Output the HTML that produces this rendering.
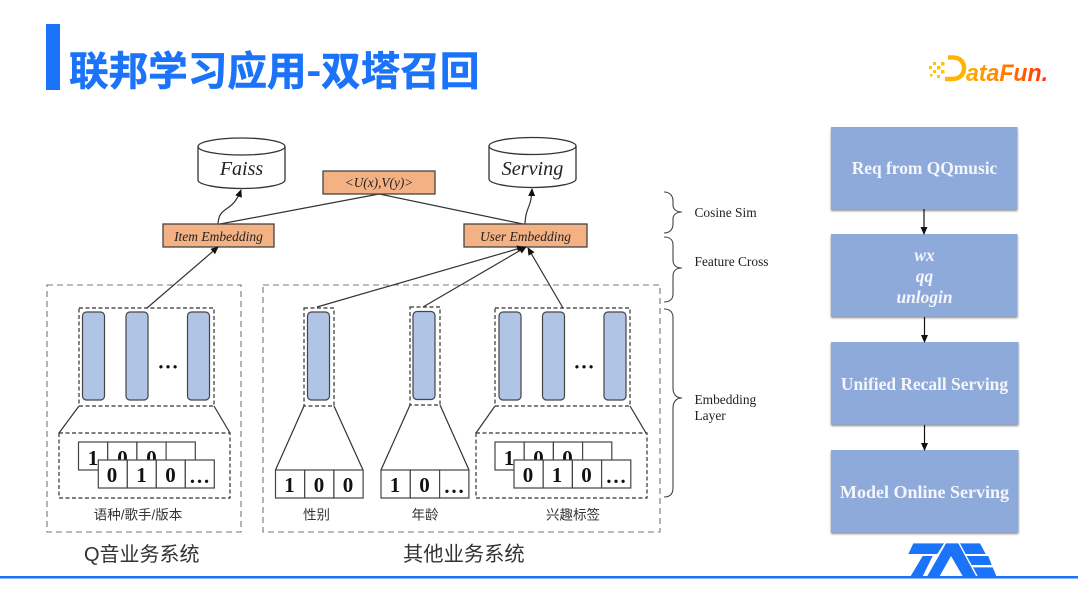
<!DOCTYPE html>
<html><head><meta charset="utf-8"><style>
html,body{margin:0;padding:0;background:#fff}
svg{display:block}
.s{font-family:"Liberation Serif",serif}
.c{font-family:"Liberation Sans","Noto Sans CJK SC",sans-serif;fill:#333}
.i{font-style:italic;fill:#222}
.w{font-family:"Liberation Serif",serif;font-weight:bold;fill:#f4f6fb;font-size:17.400px;text-anchor:middle}
.d{font-family:"Liberation Serif",serif;font-weight:bold;font-size:21px;text-anchor:middle;fill:#111}
.l{fill:none;stroke:#333;stroke-width:1.2}
.dash{fill:none;stroke:#333;stroke-width:1.2;stroke-dasharray:4 2.5}
.gd{fill:none;stroke:#777;stroke-width:1.1;stroke-dasharray:6 4}
.bar{fill:#b0c5e5;stroke:#444;stroke-width:1.2}
.cell{fill:#fff;stroke:#444;stroke-width:1.2}
.org{fill:#f4b183;stroke:#444;stroke-width:1.3}
.b{fill:#8eaadb}
</style></head><body>
<svg width="1080" height="608" viewBox="0 0 1080 608" xmlns="http://www.w3.org/2000/svg">
<defs>
<marker id="a" markerWidth="8" markerHeight="8" refX="7" refY="3.5" orient="auto" markerUnits="userSpaceOnUse"><path d="M0 0L8 3.5L0 7z" fill="#111"/></marker>
<linearGradient id="g" x1="0" x2="1" y1="0" y2="0"><stop offset="0" stop-color="#ffae00"/><stop offset=".5" stop-color="#ff7a00"/><stop offset="1" stop-color="#ff3010"/></linearGradient>
<filter id="sh" x="-5%" y="-5%" width="110%" height="112%"><feDropShadow dx="0" dy="1.500" stdDeviation="1" flood-color="#000" flood-opacity=".45"/></filter>
</defs>

<rect x="46" y="24" width="14" height="66" fill="#1a73f8"/>
<text x="69" y="85" font-family="'Noto Sans CJK SC',sans-serif" font-weight="700" font-size="39.600" fill="#1a73f8" stroke="#1a73f8" stroke-width=".6">联邦学习应用-双塔召回</text>

<!-- logo -->
<g fill="#ffc400">
<rect x="929" y="66" width="3" height="3"/><rect x="933" y="62" width="3" height="3"/><rect x="937" y="66" width="3.500" height="3.500"/><rect x="933" y="70" width="3" height="3"/><rect x="941" y="62" width="3.500" height="3.500"/><rect x="941" y="70" width="3.500" height="3.500"/><rect x="937" y="75" width="3" height="3"/><rect x="930" y="74" width="2.500" height="2.500"/>
</g>
<path d="M948 57.500H953C961 57.500 964 63 964 68C964 75 959 79 952 79H945" fill="none" stroke="#ffb400" stroke-width="4.500"/>
<text x="966" y="81" font-family="'Liberation Sans',sans-serif" font-weight="bold" font-style="italic" font-size="24" textLength="82" lengthAdjust="spacingAndGlyphs" fill="url(#g)">ataFun.</text>

<!-- cylinders -->
<g fill="#fff" stroke="#333" stroke-width="1.300">
<path d="M198 146.500V180C198 184.500 217 188.500 241.500 188.500S285 184.500 285 180V146.500"/>
<ellipse cx="241.500" cy="146.500" rx="43.500" ry="8.500"/>
<path d="M489 146V179C489 183.500 508 187.500 532.500 187.500S576 183.500 576 179V146"/>
<ellipse cx="532.500" cy="146" rx="43.500" ry="8.500"/>
</g>
<text x="241.500" y="175" class="s i" font-size="20" text-anchor="middle">Faiss</text>
<text x="532.500" y="175" class="s i" font-size="20.200" text-anchor="middle">Serving</text>

<!-- top lines -->
<path class="l" d="M379 194L220 224M379 194L523 224"/>
<path class="l" d="M218 224C219 205 232 214 241 190" marker-end="url(#a)"/>
<path class="l" d="M525 224C526 205 531 210 532 189" marker-end="url(#a)"/>

<rect class="org" x="323" y="171" width="112" height="23"/>
<text x="379" y="187" class="s i" font-size="13.300" text-anchor="middle">&lt;U(x),V(y)&gt;</text>
<rect class="org" x="163" y="224" width="111" height="23"/>
<text x="218.500" y="241" class="s i" font-size="13.500" text-anchor="middle">Item Embedding</text>
<rect class="org" x="464" y="224" width="123" height="23"/>
<text x="525.500" y="241" class="s i" font-size="13.500" text-anchor="middle">User Embedding</text>

<!-- outer dashed -->
<rect class="gd" x="47" y="285" width="194" height="247"/>
<rect class="gd" x="263" y="285" width="397" height="247"/>

<!-- arrows -->
<path class="l" d="M147 308L218 247" marker-end="url(#a)"/>
<path class="l" d="M317 307L524 247" marker-end="url(#a)"/>
<path class="l" d="M423 307L526 247" marker-end="url(#a)"/>
<path class="l" d="M563 308L528 248" marker-end="url(#a)"/>

<!-- group 1 -->
<rect class="dash" x="79" y="308" width="135" height="98"/>
<rect class="bar" x="82.500" y="312" width="22" height="88" rx="4"/>
<rect class="bar" x="126" y="312" width="22" height="88" rx="4"/>
<rect class="bar" x="187.500" y="312" width="22" height="88" rx="4"/>
<text x="168" y="368.500" class="d">…</text>
<path class="l" d="M79 406L59 433M214 406L230 433"/>
<rect class="dash" x="59" y="433" width="171" height="65"/>
<g>
<rect class="cell" x="78.500" y="442" width="29.200" height="28"/><rect class="cell" x="107.700" y="442" width="29.200" height="28"/><rect class="cell" x="136.900" y="442" width="29.200" height="28"/><rect class="cell" x="166.100" y="442" width="29.200" height="28"/>
<text x="93" y="465" class="d">1</text><text x="122.500" y="465" class="d">0</text><text x="151.500" y="465" class="d">0</text>
<rect class="cell" x="98.300" y="460" width="29" height="28"/><rect class="cell" x="127.300" y="460" width="29" height="28"/><rect class="cell" x="156.300" y="460" width="29" height="28"/><rect class="cell" x="185.300" y="460" width="29" height="28"/>
<text x="112" y="482" class="d">0</text><text x="141.500" y="482" class="d">1</text><text x="170.500" y="482" class="d">0</text><text x="199.500" y="483" class="d">…</text>
</g>
<text x="138" y="519.500" class="c" font-size="13.500" text-anchor="middle">语种/歌手/版本</text>

<!-- 性别 -->
<rect class="dash" x="304" y="308" width="30" height="98"/>
<rect class="bar" x="307.500" y="312" width="22" height="88" rx="4"/>
<path class="l" d="M304 406L275.500 470M334 406L363 470"/>
<rect class="cell" x="275.500" y="470" width="29.200" height="28"/><rect class="cell" x="304.700" y="470" width="29.200" height="28"/><rect class="cell" x="333.900" y="470" width="29.200" height="28"/>
<text x="289.500" y="492" class="d">1</text><text x="319" y="492" class="d">0</text><text x="348" y="492" class="d">0</text>
<text x="316.500" y="519.500" class="c" font-size="13.500" text-anchor="middle">性别</text>

<!-- 年龄 -->
<rect class="dash" x="410" y="307" width="30" height="98"/>
<rect class="bar" x="413" y="311.500" width="22" height="88" rx="4"/>
<path class="l" d="M410 405L381 470M440 405L469 470"/>
<rect class="cell" x="381" y="470" width="29.300" height="28"/><rect class="cell" x="410.300" y="470" width="29.300" height="28"/><rect class="cell" x="439.600" y="470" width="29.300" height="28"/>
<text x="395" y="492" class="d">1</text><text x="424.500" y="492" class="d">0</text><text x="454" y="493" class="d">…</text>
<text x="425" y="519.500" class="c" font-size="13.500" text-anchor="middle">年龄</text>

<!-- 兴趣 -->
<rect class="dash" x="495" y="308" width="135" height="98"/>
<rect class="bar" x="499" y="312" width="22" height="88" rx="4"/>
<rect class="bar" x="542.500" y="312" width="22" height="88" rx="4"/>
<rect class="bar" x="604" y="312" width="22" height="88" rx="4"/>
<text x="584" y="368.500" class="d">…</text>
<path class="l" d="M495 406L476 433M630 406L646 433"/>
<rect class="dash" x="476" y="433" width="171" height="65"/>
<rect class="cell" x="495" y="442" width="29.200" height="28"/><rect class="cell" x="524.200" y="442" width="29.200" height="28"/><rect class="cell" x="553.400" y="442" width="29.200" height="28"/><rect class="cell" x="582.600" y="442" width="29.200" height="28"/>
<text x="509" y="465" class="d">1</text><text x="538.500" y="465" class="d">0</text><text x="567.500" y="465" class="d">0</text>
<rect class="cell" x="514" y="460" width="29.200" height="28"/><rect class="cell" x="543.200" y="460" width="29.200" height="28"/><rect class="cell" x="572.400" y="460" width="29.200" height="28"/><rect class="cell" x="601.600" y="460" width="29.200" height="28"/>
<text x="528" y="482" class="d">0</text><text x="557" y="482" class="d">1</text><text x="586.500" y="482" class="d">0</text><text x="616" y="483" class="d">…</text>
<text x="573" y="519.500" class="c" font-size="13.500" text-anchor="middle">兴趣标签</text>

<text x="84" y="561" class="c" font-size="20">Q音业务系统</text>
<text x="403" y="561" class="c" font-size="20.300">其他业务系统</text>

<!-- braces -->
<g fill="none" stroke="#444" stroke-width="1.100">
<path d="M664 192C670 192 673 196 673 201V205C673 209 676 212 682 212C676 212 673 215 673 219V224C673 229 670 233 664 233"/>
<path d="M664 237C670 237 673 240 673 245V260C673 265 676 268 682 268C676 268 673 271 673 276V294C673 299 670 302 664 302"/>
<path d="M664 309C670 309 673 312 673 318V388C673 394 676 398 682 398C676 398 673 402 673 408V488C673 494 670 497 664 497"/>
</g>
<g class="s" font-size="13.400" fill="#222">
<text x="694.500" y="217">Cosine Sim</text>
<text x="694.500" y="266">Feature Cross</text>
<text x="694.500" y="404">Embedding</text>
<text x="694.500" y="420">Layer</text>
</g>

<!-- right column -->
<g filter="url(#sh)">
<rect class="b" x="831" y="127" width="186.500" height="82.500"/>
<rect class="b" x="831" y="234" width="186.500" height="82.500"/>
<rect class="b" x="831" y="342" width="187.500" height="82.500"/>
<rect class="b" x="831" y="450" width="187.500" height="82.500"/>
</g>
<path class="l" d="M924 209V234" marker-end="url(#a)" style="stroke:#111"/>
<path class="l" d="M924.500 317V342" marker-end="url(#a)" style="stroke:#111"/>
<path class="l" d="M924.500 425V450" marker-end="url(#a)" style="stroke:#111"/>
<text x="924.500" y="174" class="w">Req from QQmusic</text>
<text x="924.500" y="261" class="w" font-style="italic">wx</text>
<text x="924.500" y="282" class="w" font-style="italic">qq</text>
<text x="924.500" y="303" class="w" font-style="italic">unlogin</text>
<text x="924.500" y="390" class="w">Unified Recall Serving</text>
<text x="924.500" y="498" class="w" style="font-size:18px">Model Online Serving</text>

<!-- bottom line -->
<rect x="0" y="576" width="1078" height="2.500" fill="#1a73f8"/>
<!-- TME -->
<g transform="translate(820 330) scale(.33333)" fill="#1a73f8">
<polygon points="280,640 372,640 352,672 265,672"/>
<polygon points="308,678 338,678 305,745 268,745"/>
<polygon points="378,640 415,640 472,745 432,745 393,678 355,745 318,745"/>
<polygon points="420,640 480,640 497,672 437,672"/>
<polygon points="440,678 505,678 515,705 455,705"/>
<polygon points="459,712 518,712 532,745 477,745"/>
</g>
</svg>
</body></html>
